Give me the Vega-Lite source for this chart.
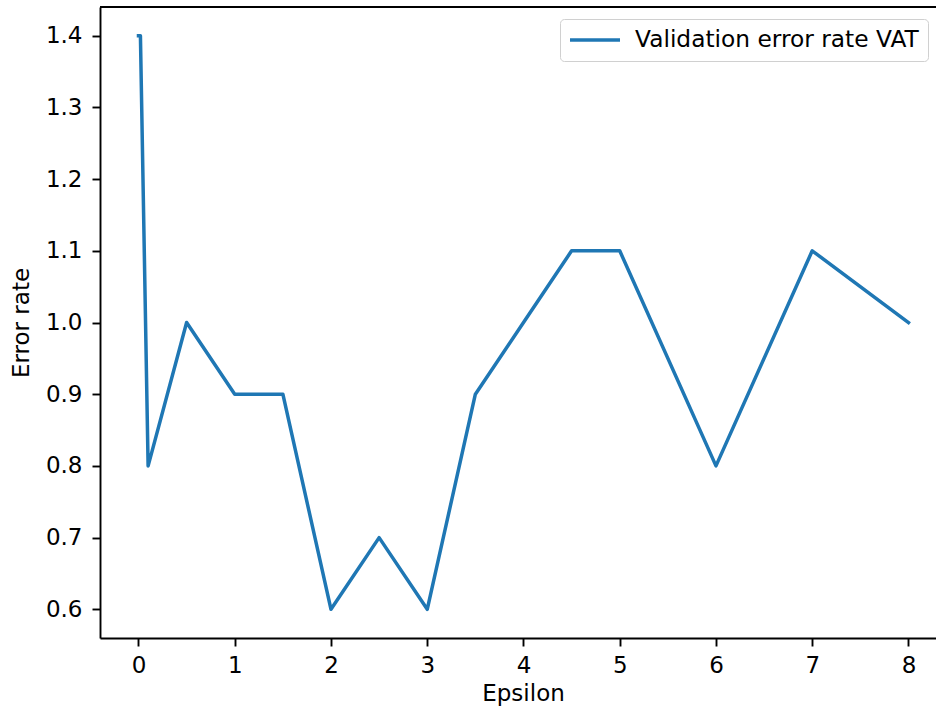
{
  "$schema": "https://vega.github.io/schema/vega-lite/v6.json",
  "width": 836,
  "height": 631,
  "autosize": {"type": "none"},
  "padding": {"left": 100, "top": 7, "right": 0, "bottom": 72},
  "background": "white",
  "config": {
    "view": {"stroke": null},
    "font": "DejaVu Sans",
    "axis": {
      "grid": false,
      "domainColor": "black",
      "domainWidth": 1.9,
      "tickColor": "black",
      "tickWidth": 1.9,
      "tickSize": 8,
      "labelFont": "DejaVu Sans",
      "labelFontSize": 23,
      "labelColor": "black",
      "labelPadding": 8,
      "titleFont": "DejaVu Sans",
      "titleFontSize": 23,
      "titleFontWeight": "normal",
      "titleColor": "black"
    }
  },
  "datasets": {
    "vat": [
      {"epsilon": 0, "error_rate": 1.4},
      {"epsilon": 0.01, "error_rate": 1.4},
      {"epsilon": 0.02, "error_rate": 1.4},
      {"epsilon": 0.1, "error_rate": 0.8},
      {"epsilon": 0.5, "error_rate": 1.0},
      {"epsilon": 1, "error_rate": 0.9},
      {"epsilon": 1.5, "error_rate": 0.9},
      {"epsilon": 2, "error_rate": 0.6},
      {"epsilon": 2.5, "error_rate": 0.7},
      {"epsilon": 3, "error_rate": 0.6},
      {"epsilon": 3.5, "error_rate": 0.9},
      {"epsilon": 4, "error_rate": 1.0},
      {"epsilon": 4.5, "error_rate": 1.1},
      {"epsilon": 5, "error_rate": 1.1},
      {"epsilon": 6, "error_rate": 0.8},
      {"epsilon": 7, "error_rate": 1.1},
      {"epsilon": 8, "error_rate": 1.0}
    ]
  },
  "layer": [
    {
      "data": {"name": "vat"},
      "mark": {"type": "line", "strokeWidth": 3.5, "strokeCap": "square", "strokeJoin": "round"},
      "encoding": {
        "x": {
          "field": "epsilon",
          "type": "quantitative",
          "scale": {"domain": [-0.4, 8.286], "nice": false, "zero": false},
          "axis": {"title": "Epsilon", "values": [0, 1, 2, 3, 4, 5, 6, 7, 8], "format": "d", "titlePadding": 5, "titleX": 423}
        },
        "y": {
          "field": "error_rate",
          "type": "quantitative",
          "scale": {"domain": [0.56, 1.44], "nice": false, "zero": false},
          "axis": {"title": "Error rate", "values": [0.6, 0.7, 0.8, 0.9, 1.0, 1.1, 1.2, 1.3, 1.4], "format": ".1f", "labelPadding": 10, "titlePadding": 12}
        },
        "color": {
          "datum": "Validation error rate VAT",
          "type": "nominal",
          "scale": {"range": ["#1f77b4"]},
          "legend": {
            "title": null,
            "orient": "none",
            "legendX": 460,
            "legendY": 12,
            "padding": 9,
            "strokeColor": "#d0d0d0",
            "fillColor": "white",
            "cornerRadius": 4,
            "symbolType": "M-1.1,0H3.9",
            "symbolSize": 400,
            "symbolStrokeWidth": 3.5,
            "labelOffset": 42,
            "labelLimit": 0,
            "labelFont": "DejaVu Sans",
            "labelFontSize": 23.3,
            "labelColor": "black"
          }
        }
      }
    },
    {
      "data": {"values": [{}]},
      "mark": {"type": "rule", "color": "black", "strokeWidth": 1.9},
      "encoding": {"y": {"datum": 1.44}}
    }
  ]
}
